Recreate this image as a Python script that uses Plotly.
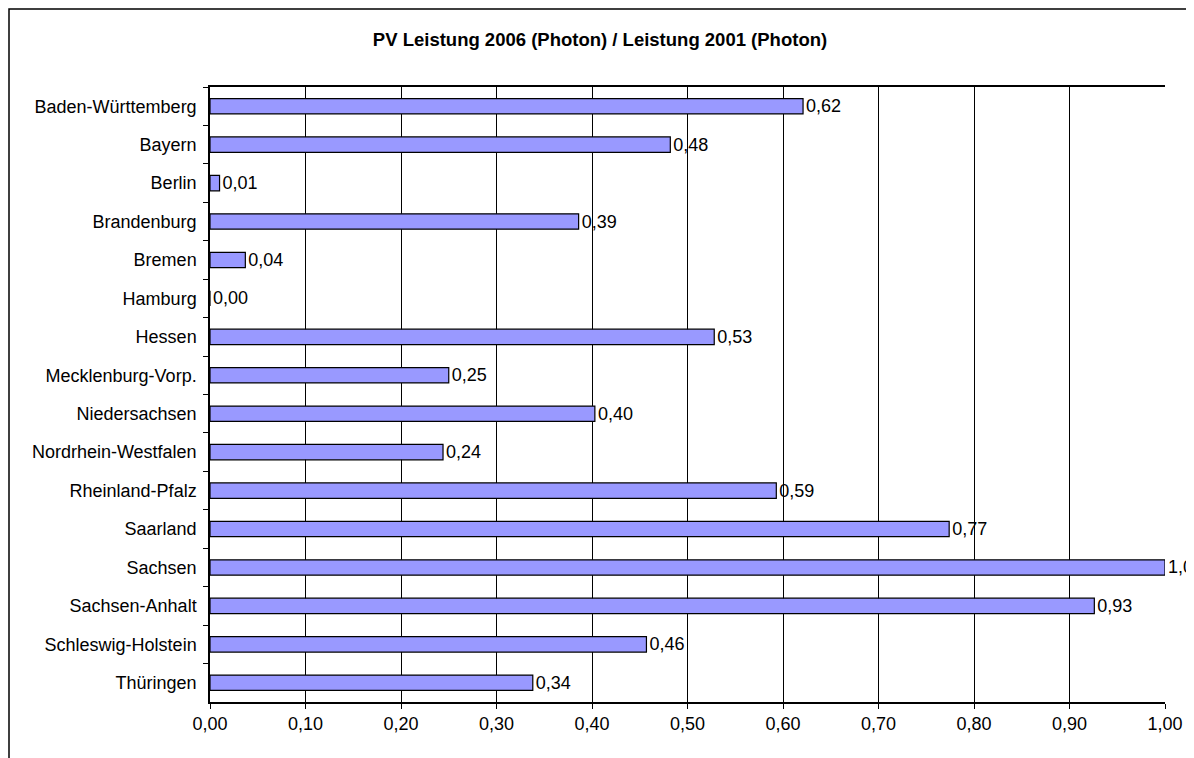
import plotly.graph_objects as go

states = ["Baden-Württemberg", "Bayern", "Berlin", "Brandenburg", "Bremen", "Hamburg",
          "Hessen", "Mecklenburg-Vorp.", "Niedersachsen", "Nordrhein-Westfalen",
          "Rheinland-Pfalz", "Saarland", "Sachsen", "Sachsen-Anhalt",
          "Schleswig-Holstein", "Thüringen"]
ratio = [0.621, 0.482, 0.010, 0.386, 0.037, 0.0, 0.528, 0.250, 0.403, 0.244,
         0.593, 0.774, 1.000, 0.926, 0.457, 0.338]
title_text = "PV Leistung 2006 (Photon) / Leistung 2001 (Photon)"
x_ticks = [0.0, 0.1, 0.2, 0.3, 0.4, 0.5, 0.6, 0.7, 0.8, 0.9, 1.0]

labels = [f"{v:.2f}".replace(".", ",") for v in ratio]

FONT = "Liberation Sans, Arial"

fig = go.Figure(go.Bar(
    y=states, x=ratio, orientation="h",
    width=0.4,
    marker=dict(color="#9999FF", line=dict(color="#000000", width=1.2)),
    text=labels, textposition="outside", cliponaxis=False, constraintext="none",
    textfont=dict(family=FONT, size=18, color="#000000"),
))

# page body has an 8px margin; figure sized to fit the window
W, H = 1186, 750
L, R, T, B = 202, 29, 79, 56
pw, ph = W - L - R, H - T - B

fig.update_layout(
    width=W, height=H,
    margin=dict(l=L, r=R, t=T, b=B),
    paper_bgcolor="white", plot_bgcolor="white",
    separators=",.",
    showlegend=False,
    font=dict(family=FONT, size=18, color="#000000"),
    title=dict(text=f"<b>{title_text}</b>", x=592 / W, xanchor="center", xref="container",
               y=1 - 32 / H, yanchor="middle", yref="container",
               font=dict(size=18.5, family=FONT)),
    xaxis=dict(range=[0, 1.0], tickvals=x_ticks, tickformat=".2f",
               showgrid=True, gridcolor="#000000", gridwidth=1,
               showline=True, linecolor="#000000", linewidth=1.5, mirror=True,
               ticks="outside", ticklen=5, tickcolor="#000000",
               zeroline=False, fixedrange=True),
    yaxis=dict(autorange="reversed", type="category",
               showline=True, linecolor="#000000", linewidth=1.5,
               ticks="outside", ticklen=5, tickcolor="#000000", tickson="boundaries",
               showgrid=False, zeroline=False, ticklabelstandoff=8),
    shapes=[dict(type="rect", xref="paper", yref="paper",
                 x0=(1 - L) / pw, x1=(W + 10 - L) / pw,
                 y0=-(B + 10) / ph, y1=1 + (T - 1) / ph,
                 line=dict(color="#000000", width=1.5), fillcolor="rgba(0,0,0,0)",
                 layer="below")],
)

fig.write_html("out.html")
